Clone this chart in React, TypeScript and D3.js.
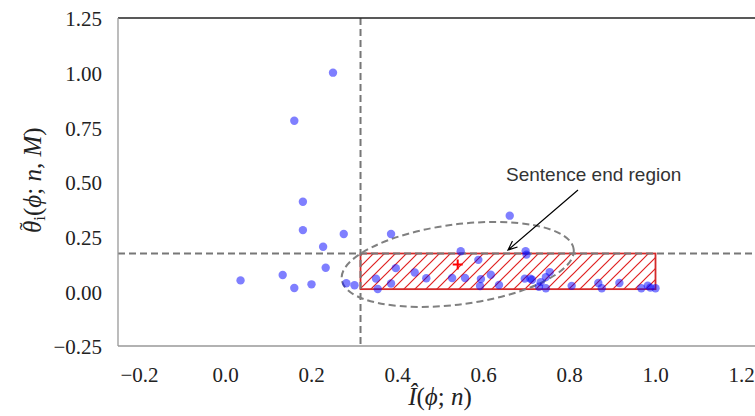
import React from "react";
import * as d3 from "d3";

// scatter data
const infoX = [
  0.25, 0.16, 0.18, 0.18, 0.275, 0.385, 0.227, 0.233, 0.035, 0.133, 0.16, 0.2,
  0.281, 0.3, 0.35, 0.354, 0.385, 0.396, 0.44, 0.467, 0.527, 0.557, 0.547,
  0.588, 0.594, 0.592, 0.617, 0.636, 0.661, 0.698, 0.7, 0.696, 0.709, 0.713,
  0.729, 0.733, 0.745, 0.745, 0.754, 0.805, 0.867, 0.875, 0.916, 0.967, 0.982,
  0.988, 1.0,
];
const thetaY = [
  1.0, 0.78, 0.41, 0.28, 0.262, 0.262, 0.204, 0.108, 0.05, 0.075, 0.015, 0.032,
  0.037, 0.028, 0.058, 0.011, 0.036, 0.106, 0.086, 0.06, 0.061, 0.061, 0.183,
  0.144, 0.056, 0.024, 0.076, 0.029, 0.346, 0.184, 0.168, 0.058, 0.058, 0.053,
  0.021, 0.042, 0.014, 0.065, 0.088, 0.025, 0.038, 0.014, 0.038, 0.014, 0.026,
  0.017, 0.014,
];

const xTicks = [-0.2, 0, 0.2, 0.4, 0.6, 0.8, 1.0, 1.2];
const yTicks = [-0.25, 0, 0.25, 0.5, 0.75, 1.0, 1.25];

const xThreshold = 0.314;
const yThreshold = 0.173;
const regionBox = [0.314, 0.01, 1.0, 0.173]; // x0, y0, x1, y1
const centroid = [0.54, 0.123];
const ellipseRadii = [0.272, 0.183]; // in data units along x / y
const ellipseAngle = -7.5;
const annotationText = "Sentence end region";

const W = 755;
const H = 416;
const left = 118;
const top = 18;
const bottom = 346;
const serif = "'Liberation Serif', 'Times New Roman', 'DejaVu Serif', serif";

export default function App() {
  const x = d3.scaleLinear().domain([-0.25, 1.25]).range([left, 763]);
  const y = d3.scaleLinear().domain([-0.25, 1.25]).range([bottom, top]);
  const fx = d3.format(".1f");
  const fy = d3.format(".2f");

  const rx = x(centroid[0] + ellipseRadii[0]) - x(centroid[0]);
  const ry = y(centroid[1]) - y(centroid[1] + ellipseRadii[1]);
  const cx = x(centroid[0]);
  const cy = y(centroid[1]);

  const arrowFrom = [578, 190];
  const arrowTo = [508, 250];
  const ang = Math.atan2(arrowTo[1] - arrowFrom[1], arrowTo[0] - arrowFrom[0]);
  const head = (a: number) =>
    `${arrowTo[0] - 10 * Math.cos(ang + a)},${arrowTo[1] - 10 * Math.sin(ang + a)}`;

  return (
    <svg
      width={W}
      height={H}
      style={{ position: "absolute", left: 0, top: 0, background: "#fff" }}
    >
      <defs>
        <clipPath id="plot">
          <rect x={left} y={top} width={W - left} height={bottom - top} />
        </clipPath>
        <pattern id="hatch" patternUnits="userSpaceOnUse" width={11} height={11}>
          <path
            d="M-1,1 l2,-2 M0,11 l11,-11 M10,12 l2,-2"
            stroke="#e02020"
            strokeWidth={1.2}
          />
        </pattern>
      </defs>

      <g clipPath="url(#plot)">
        <rect
          x={x(regionBox[0])}
          y={y(regionBox[3])}
          width={x(regionBox[2]) - x(regionBox[0])}
          height={y(regionBox[1]) - y(regionBox[3])}
          fill="url(#hatch)"
          stroke="#d42a2a"
          strokeWidth={1.8}
        />
        <line
          x1={x(xThreshold)}
          x2={x(xThreshold)}
          y1={top}
          y2={bottom}
          stroke="#777"
          strokeWidth={2}
          strokeDasharray="7 4"
        />
        <line
          x1={left}
          x2={W}
          y1={y(yThreshold)}
          y2={y(yThreshold)}
          stroke="#777"
          strokeWidth={2}
          strokeDasharray="7 4"
        />
        <ellipse
          cx={cx}
          cy={cy}
          rx={rx}
          ry={ry}
          transform={`rotate(${ellipseAngle} ${cx} ${cy})`}
          fill="none"
          stroke="#808080"
          strokeWidth={2}
          strokeDasharray="7 4"
        />
        {infoX.map((v, i) => (
          <circle
            key={i}
            cx={x(v)}
            cy={y(thetaY[i])}
            r={4.2}
            fill="#0000ff"
            fillOpacity={0.5}
          />
        ))}
        <path
          d={`M${cx - 5},${cy} h10 M${cx},${cy - 5} v10`}
          stroke="#ff0000"
          strokeWidth={2}
        />
      </g>

      {/* spines */}
      <line x1={left} x2={W} y1={top} y2={top} stroke="#222" strokeWidth={1.3} />
      <line x1={left} x2={left} y1={top} y2={bottom} stroke="#999" strokeWidth={1.3} />
      <line x1={left} x2={W} y1={bottom} y2={bottom} stroke="#999" strokeWidth={1.3} />

      <g style={{ fontFamily: serif, fontSize: 21 }} fill="#222">
        {xTicks.map((t) => (
          <text key={t} x={x(t)} y={382} textAnchor="middle">
            {fx(t)}
          </text>
        ))}
        {yTicks.map((t) => (
          <text key={t} x={102} y={y(t) + 1} dy="0.35em" textAnchor="end">
            {fy(t)}
          </text>
        ))}
      </g>

      <g style={{ fontFamily: serif, fontSize: 25 }} fill="#222">
        <text x={440} y={405} textAnchor="middle">
          <tspan fontStyle="italic">I&#770;</tspan>
          <tspan>(</tspan>
          <tspan fontStyle="italic">ϕ</tspan>
          <tspan>; </tspan>
          <tspan fontStyle="italic">n</tspan>
          <tspan>)</tspan>
        </text>
        <g transform={`translate(41, 173) rotate(-90)`}>
          <text x={-60} y={0}>
            <tspan fontStyle="italic">θ</tspan>
            <tspan style={{ fontSize: 17 }} dy={4}>i</tspan>
            <tspan dy={-4}>(</tspan>
            <tspan fontStyle="italic">ϕ</tspan>
            <tspan>; </tspan>
            <tspan fontStyle="italic">n</tspan>
            <tspan>, </tspan>
            <tspan fontStyle="italic">M</tspan>
            <tspan>)</tspan>
          </text>
          <text x={-57} y={-7} style={{ fontSize: 22 }}>
            ˜
          </text>
        </g>
      </g>

      <text
        x={506}
        y={181}
        style={{ fontFamily: "'Liberation Sans', Arial, sans-serif", fontSize: 19 }}
        fill="#333"
      >
        {annotationText}
      </text>
      <path
        d={`M${arrowFrom[0]},${arrowFrom[1]} L${arrowTo[0]},${arrowTo[1]} M${head(0.4)} L${arrowTo[0]},${arrowTo[1]} L${head(-0.4)}`}
        stroke="#000"
        strokeWidth={1.2}
        fill="none"
      />
    </svg>
  );
}
